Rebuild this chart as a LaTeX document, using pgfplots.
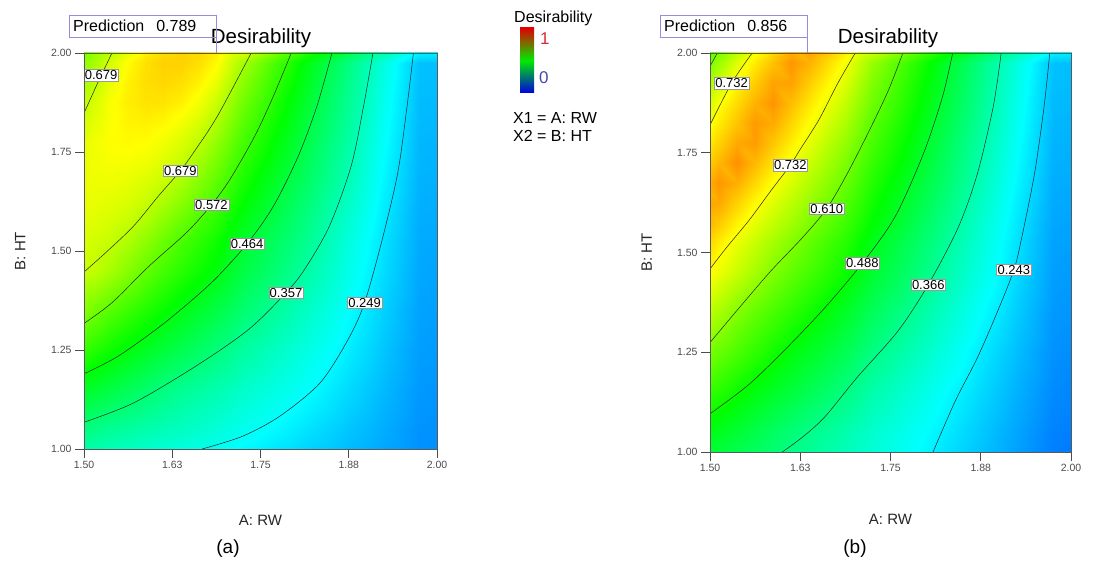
\documentclass[border=0pt]{standalone}
\usepackage{fontspec}
\setmainfont{Liberation Sans}
\usepackage{pgfplots}
\usepackage{pgfplotstable}
\pgfplotsset{compat=1.18}
\definecolor{predbox}{RGB}{150,140,220}
\definecolor{cbred}{RGB}{225,0,0}
\definecolor{cbgreen}{RGB}{0,235,0}
\definecolor{cbblue}{RGB}{0,0,225}
\definecolor{onecol}{RGB}{215,40,60}
\definecolor{zerocol}{RGB}{70,70,170}
\pgfplotsset{colormap={de}{rgb255(0cm)=(0,0,255) rgb255(25cm)=(0,255,255) rgb255(50cm)=(0,255,0) rgb255(74cm)=(255,255,0) rgb255(100cm)=(255,0,0)}}

% (a) desirability: rows of B (HT), columns of A (RW)
\pgfplotstableread{
x y z
1.500 1.00 0.300
1.525 1.00 0.292
1.550 1.00 0.285
1.575 1.00 0.277
1.600 1.00 0.269
1.625 1.00 0.261
1.650 1.00 0.254
1.675 1.00 0.246
1.700 1.00 0.238
1.750 1.00 0.222
1.800 1.00 0.206
1.850 1.00 0.190
1.900 1.00 0.173
1.950 1.00 0.157
2.000 1.00 0.141
1.500 1.10 0.385
1.525 1.10 0.370
1.550 1.10 0.355
1.575 1.10 0.344
1.600 1.10 0.333
1.625 1.10 0.322
1.650 1.10 0.311
1.675 1.10 0.300
1.700 1.10 0.289
1.750 1.10 0.266
1.800 1.10 0.244
1.850 1.10 0.219
1.900 1.10 0.194
1.950 1.10 0.170
2.000 1.10 0.145
1.500 1.20 0.472
1.525 1.20 0.453
1.550 1.20 0.434
1.575 1.20 0.415
1.600 1.20 0.395
1.625 1.20 0.376
1.650 1.20 0.357
1.675 1.20 0.343
1.700 1.20 0.329
1.750 1.20 0.302
1.800 1.20 0.275
1.850 1.20 0.247
1.900 1.20 0.214
1.950 1.20 0.182
2.000 1.20 0.150
1.500 1.30 0.558
1.525 1.30 0.535
1.550 1.30 0.511
1.575 1.30 0.488
1.600 1.30 0.465
1.625 1.30 0.444
1.650 1.30 0.423
1.675 1.30 0.402
1.700 1.30 0.382
1.750 1.30 0.344
1.800 1.30 0.307
1.850 1.30 0.271
1.900 1.30 0.233
1.950 1.30 0.194
2.000 1.30 0.155
1.500 1.40 0.640
1.525 1.40 0.610
1.550 1.40 0.580
1.575 1.40 0.554
1.600 1.40 0.530
1.625 1.40 0.506
1.650 1.40 0.481
1.675 1.40 0.457
1.700 1.40 0.435
1.750 1.40 0.391
1.800 1.40 0.346
1.850 1.40 0.299
1.900 1.40 0.251
1.950 1.40 0.205
2.000 1.40 0.160
1.500 1.50 0.694
1.525 1.50 0.683
1.550 1.50 0.657
1.575 1.50 0.625
1.600 1.50 0.592
1.625 1.50 0.563
1.650 1.50 0.537
1.675 1.50 0.512
1.700 1.50 0.487
1.750 1.50 0.435
1.800 1.50 0.384
1.850 1.50 0.330
1.900 1.50 0.271
1.950 1.50 0.216
2.000 1.50 0.165
1.500 1.55 0.706
1.525 1.55 0.698
1.550 1.55 0.687
1.575 1.55 0.663
1.600 1.55 0.631
1.625 1.55 0.600
1.650 1.55 0.569
1.675 1.55 0.541
1.700 1.55 0.513
1.750 1.55 0.457
1.800 1.55 0.403
1.850 1.55 0.348
1.900 1.55 0.282
1.950 1.55 0.222
2.000 1.55 0.168
1.500 1.60 0.715
1.525 1.60 0.710
1.550 1.60 0.701
1.575 1.60 0.687
1.600 1.60 0.663
1.625 1.60 0.631
1.650 1.60 0.600
1.675 1.60 0.569
1.700 1.60 0.539
1.750 1.60 0.480
1.800 1.60 0.421
1.850 1.60 0.362
1.900 1.60 0.294
1.950 1.60 0.228
2.000 1.60 0.170
1.500 1.65 0.719
1.525 1.65 0.719
1.550 1.65 0.714
1.575 1.65 0.704
1.600 1.65 0.688
1.625 1.65 0.661
1.650 1.65 0.629
1.675 1.65 0.596
1.700 1.65 0.565
1.750 1.65 0.501
1.800 1.65 0.437
1.850 1.65 0.375
1.900 1.65 0.306
1.950 1.65 0.234
2.000 1.65 0.173
1.500 1.70 0.718
1.525 1.70 0.725
1.550 1.70 0.725
1.575 1.70 0.718
1.600 1.70 0.706
1.625 1.70 0.688
1.650 1.70 0.659
1.675 1.70 0.624
1.700 1.70 0.589
1.750 1.70 0.522
1.800 1.70 0.454
1.850 1.70 0.389
1.900 1.70 0.319
1.950 1.70 0.241
2.000 1.70 0.175
1.500 1.75 0.715
1.525 1.75 0.728
1.550 1.75 0.734
1.575 1.75 0.733
1.600 1.75 0.725
1.625 1.75 0.709
1.650 1.75 0.686
1.675 1.75 0.651
1.700 1.75 0.614
1.750 1.75 0.543
1.800 1.75 0.472
1.850 1.75 0.402
1.900 1.75 0.328
1.950 1.75 0.247
2.000 1.75 0.178
1.500 1.80 0.705
1.525 1.80 0.727
1.550 1.80 0.741
1.575 1.80 0.745
1.600 1.80 0.741
1.625 1.80 0.728
1.650 1.80 0.707
1.675 1.80 0.678
1.700 1.80 0.639
1.750 1.80 0.564
1.800 1.80 0.489
1.850 1.80 0.414
1.900 1.80 0.338
1.950 1.80 0.254
2.000 1.80 0.180
1.500 1.85 0.679
1.525 1.85 0.713
1.550 1.85 0.737
1.575 1.85 0.751
1.600 1.85 0.755
1.625 1.85 0.748
1.650 1.85 0.730
1.675 1.85 0.703
1.700 1.85 0.666
1.750 1.85 0.584
1.800 1.85 0.506
1.850 1.85 0.427
1.900 1.85 0.347
1.950 1.85 0.260
2.000 1.85 0.183
1.500 1.90 0.656
1.525 1.90 0.701
1.550 1.90 0.735
1.575 1.90 0.758
1.600 1.90 0.769
1.625 1.90 0.768
1.650 1.90 0.755
1.675 1.90 0.729
1.700 1.90 0.692
1.750 1.90 0.606
1.800 1.90 0.523
1.850 1.90 0.439
1.900 1.90 0.356
1.950 1.90 0.267
2.000 1.90 0.185
1.500 1.95 0.632
1.525 1.95 0.677
1.550 1.95 0.722
1.575 1.95 0.754
1.600 1.95 0.774
1.625 1.95 0.780
1.650 1.95 0.773
1.675 1.95 0.752
1.700 1.95 0.719
1.750 1.95 0.629
1.800 1.95 0.540
1.850 1.95 0.452
1.900 1.95 0.364
1.950 1.95 0.273
2.000 1.95 0.188
1.500 2.00 0.620
1.525 2.00 0.653
1.550 2.00 0.700
1.575 2.00 0.744
1.600 2.00 0.772
1.625 2.00 0.787
1.650 2.00 0.787
1.675 2.00 0.773
1.700 2.00 0.745
1.750 2.00 0.654
1.800 2.00 0.560
1.850 2.00 0.467
1.900 2.00 0.374
1.950 2.00 0.280
2.000 2.00 0.190
}\gridA

% (b)
\pgfplotstableread{
x y z
1.500 1.00 0.423
1.525 1.00 0.409
1.550 1.00 0.395
1.575 1.00 0.381
1.600 1.00 0.366
1.625 1.00 0.352
1.650 1.00 0.337
1.675 1.00 0.322
1.700 1.00 0.307
1.750 1.00 0.278
1.800 1.00 0.248
1.850 1.00 0.217
1.900 1.00 0.185
1.950 1.00 0.153
2.000 1.00 0.121
1.500 1.10 0.491
1.525 1.10 0.470
1.550 1.10 0.449
1.575 1.10 0.428
1.600 1.10 0.407
1.625 1.10 0.386
1.650 1.10 0.366
1.675 1.10 0.349
1.700 1.10 0.332
1.750 1.10 0.299
1.800 1.10 0.265
1.850 1.10 0.231
1.900 1.10 0.197
1.950 1.10 0.162
2.000 1.10 0.128
1.500 1.20 0.559
1.525 1.20 0.534
1.550 1.20 0.509
1.575 1.20 0.485
1.600 1.20 0.463
1.625 1.20 0.441
1.650 1.20 0.419
1.675 1.20 0.397
1.700 1.20 0.375
1.750 1.20 0.333
1.800 1.20 0.292
1.850 1.20 0.251
1.900 1.20 0.213
1.950 1.20 0.174
2.000 1.20 0.136
1.500 1.30 0.627
1.525 1.30 0.596
1.550 1.30 0.570
1.575 1.30 0.543
1.600 1.30 0.516
1.625 1.30 0.491
1.650 1.30 0.467
1.675 1.30 0.443
1.700 1.30 0.420
1.750 1.30 0.374
1.800 1.30 0.326
1.850 1.30 0.278
1.900 1.30 0.230
1.950 1.30 0.187
2.000 1.30 0.143
1.500 1.40 0.693
1.525 1.40 0.658
1.550 1.40 0.622
1.575 1.40 0.593
1.600 1.40 0.567
1.625 1.40 0.541
1.650 1.40 0.516
1.675 1.40 0.490
1.700 1.40 0.464
1.750 1.40 0.413
1.800 1.40 0.361
1.850 1.40 0.307
1.900 1.40 0.252
1.950 1.40 0.201
2.000 1.40 0.150
1.500 1.50 0.762
1.525 1.50 0.722
1.550 1.50 0.689
1.575 1.50 0.655
1.600 1.50 0.621
1.625 1.50 0.592
1.650 1.50 0.565
1.675 1.50 0.538
1.700 1.50 0.511
1.750 1.50 0.455
1.800 1.50 0.396
1.850 1.50 0.336
1.900 1.50 0.275
1.950 1.50 0.215
2.000 1.50 0.156
1.500 1.55 0.799
1.525 1.55 0.757
1.550 1.55 0.719
1.575 1.55 0.687
1.600 1.55 0.654
1.625 1.55 0.622
1.650 1.55 0.592
1.675 1.55 0.563
1.700 1.55 0.535
1.750 1.55 0.477
1.800 1.55 0.415
1.850 1.55 0.353
1.900 1.55 0.287
1.950 1.55 0.222
2.000 1.55 0.160
1.500 1.60 0.836
1.525 1.60 0.794
1.550 1.60 0.752
1.575 1.60 0.715
1.600 1.60 0.683
1.625 1.60 0.651
1.650 1.60 0.619
1.675 1.60 0.589
1.700 1.60 0.559
1.750 1.60 0.499
1.800 1.60 0.434
1.850 1.60 0.367
1.900 1.60 0.297
1.950 1.60 0.228
2.000 1.60 0.163
1.500 1.65 0.840
1.525 1.65 0.828
1.550 1.65 0.786
1.575 1.65 0.744
1.600 1.65 0.709
1.625 1.65 0.676
1.650 1.65 0.643
1.675 1.65 0.610
1.700 1.65 0.578
1.750 1.65 0.515
1.800 1.65 0.449
1.850 1.65 0.381
1.900 1.65 0.308
1.950 1.65 0.235
2.000 1.65 0.167
1.500 1.70 0.804
1.525 1.70 0.847
1.550 1.70 0.821
1.575 1.70 0.779
1.600 1.70 0.737
1.625 1.70 0.702
1.650 1.70 0.667
1.675 1.70 0.632
1.700 1.70 0.598
1.750 1.70 0.532
1.800 1.70 0.465
1.850 1.70 0.395
1.900 1.70 0.320
1.950 1.70 0.243
2.000 1.70 0.170
1.500 1.75 0.772
1.525 1.75 0.815
1.550 1.75 0.853
1.575 1.75 0.811
1.600 1.75 0.769
1.625 1.75 0.728
1.650 1.75 0.691
1.675 1.75 0.654
1.700 1.75 0.617
1.750 1.75 0.550
1.800 1.75 0.482
1.850 1.75 0.407
1.900 1.75 0.329
1.950 1.75 0.249
2.000 1.75 0.174
1.500 1.80 0.744
1.525 1.80 0.786
1.550 1.80 0.828
1.575 1.80 0.840
1.600 1.80 0.798
1.625 1.80 0.756
1.650 1.80 0.716
1.675 1.80 0.677
1.700 1.80 0.639
1.750 1.80 0.566
1.800 1.80 0.495
1.850 1.80 0.418
1.900 1.80 0.339
1.950 1.80 0.256
2.000 1.80 0.177
1.500 1.85 0.712
1.525 1.85 0.759
1.550 1.85 0.801
1.575 1.85 0.843
1.600 1.85 0.825
1.625 1.85 0.783
1.650 1.85 0.740
1.675 1.85 0.701
1.700 1.85 0.662
1.750 1.85 0.584
1.800 1.85 0.510
1.850 1.85 0.431
1.900 1.85 0.349
1.950 1.85 0.263
2.000 1.85 0.180
1.500 1.90 0.670
1.525 1.90 0.736
1.550 1.90 0.777
1.575 1.90 0.819
1.600 1.90 0.849
1.625 1.90 0.807
1.650 1.90 0.765
1.675 1.90 0.724
1.700 1.90 0.684
1.750 1.90 0.603
1.800 1.90 0.524
1.850 1.90 0.443
1.900 1.90 0.357
1.950 1.90 0.269
2.000 1.90 0.183
1.500 1.95 0.628
1.525 1.95 0.694
1.550 1.95 0.750
1.575 1.95 0.792
1.600 1.95 0.834
1.625 1.95 0.834
1.650 1.95 0.792
1.675 1.95 0.750
1.700 1.95 0.707
1.750 1.95 0.621
1.800 1.95 0.537
1.850 1.95 0.452
1.900 1.95 0.365
1.950 1.95 0.275
2.000 1.95 0.187
1.500 2.00 0.584
1.525 2.00 0.648
1.550 2.00 0.711
1.575 2.00 0.761
1.600 2.00 0.804
1.625 2.00 0.847
1.650 2.00 0.820
1.675 2.00 0.777
1.700 2.00 0.734
1.750 2.00 0.642
1.800 2.00 0.552
1.850 2.00 0.463
1.900 2.00 0.372
1.950 2.00 0.281
2.000 2.00 0.190
}\gridB

\pgfplotsset{
  deaxis/.style={
    scale only axis, anchor=south west,
    xmin=1.5, xmax=2, ymin=1, ymax=2,
    xtick={1.5,1.625,1.75,1.875,2}, xticklabels={1.50,1.63,1.75,1.88,2.00},
    ytick={1,1.25,1.5,1.75,2}, yticklabels={1.00,1.25,1.50,1.75,2.00},
    tick align=outside, tick pos=left, major tick length=9pt,
    every tick/.style={gray!60!black, line width=0.6pt},
    tick label style={font=\fontsize{10.5}{11}\selectfont, text=black!70},
    axis line style={gray!70!black, line width=0.6pt},
    label style={font=\fontsize{15}{17}\selectfont, text=black!85},
    colormap name=de, point meta min=0, point meta max=1,
    enlargelimits=false, axis on top,
  },
  cont/.style={black!85, line width=0.5pt, smooth, no markers},
}
\tikzset{clab/.style={draw=gray!80, fill=white, inner sep=1pt, line width=0.4pt, font=\fontsize{13}{13}\selectfont}}

\begin{document}
\begin{tikzpicture}
\useasboundingbox (0pt,0pt) rectangle (1111pt,565pt);

% ---------- (a) ----------
\begin{axis}[deaxis, at={(84pt,116pt)}, width=353pt, height=396pt,
  xlabel={A: RW}, ylabel={B: HT},
  xlabel style={at={(axis description cs:0.5,-0.179)}, anchor=center},
  ylabel style={at={(axis description cs:-0.181,0.5)}, anchor=center}]
\addplot[matrix plot*, shader=interp, mesh/cols=15, point meta=explicit] table[x=x, y=y, meta=z] {\gridA};
\addplot[cont] coordinates {(1.5396,2.0) (1.5198,1.926) (1.5,1.848)};
\addplot[cont] coordinates {(1.7368,2.0) (1.6893,1.8415) (1.6585,1.7572) (1.6364,1.7024) (1.6056,1.6392) (1.5704,1.5633) (1.5308,1.4959) (1.5,1.447)};
\addplot[cont] coordinates {(1.7936,2.0) (1.7685,1.8921) (1.7421,1.7909) (1.7069,1.6813) (1.6805,1.6164) (1.6452,1.5465) (1.5924,1.4622) (1.5396,1.3694) (1.5,1.3172)};
\addplot[cont] coordinates {(1.8512,2.0) (1.8301,1.8668) (1.8037,1.7404) (1.7685,1.6139) (1.7311,1.5186) (1.6805,1.42) (1.6144,1.3189) (1.5484,1.2345) (1.5,1.1899)};
\addplot[cont] coordinates {(1.9093,2.0) (1.8961,1.8668) (1.8785,1.7151) (1.8477,1.5633) (1.8125,1.4537) (1.7861,1.3947) (1.7333,1.302) (1.6585,1.2093) (1.5704,1.1165) (1.5,1.0676)};
\addplot[cont] coordinates {(1.9666,2.0) (1.9577,1.8668) (1.9445,1.6982) (1.9225,1.5296) (1.8974,1.3694) (1.8741,1.2767) (1.8345,1.1672) (1.7773,1.0828) (1.7245,1.0322) (1.6673,1.0)};
\node[clab, anchor=west] at (axis cs:1.4995,1.944) {0.679};
\node[clab] at (axis cs:1.6364,1.7024) {0.679};
\node[clab] at (axis cs:1.6805,1.6164) {0.572};
\node[clab] at (axis cs:1.7311,1.5186) {0.464};
\node[clab] at (axis cs:1.7861,1.3947) {0.357};
\node[clab] at (axis cs:1.8974,1.3694) {0.249};
\end{axis}

% ---------- (b) ----------
\begin{axis}[deaxis, at={(710pt,113pt)}, width=361pt, height=399pt,
  xlabel={A: RW}, ylabel={B: HT},
  xlabel style={at={(axis description cs:0.5,-0.170)}, anchor=center},
  ylabel style={at={(axis description cs:-0.175,0.5)}, anchor=center}]
\addplot[matrix plot*, shader=interp, mesh/cols=15, point meta=explicit] table[x=x, y=y, meta=z] {\gridB};
\addplot[cont] coordinates {(1.5101,2.0) (1.5,1.9664)};
\addplot[cont] coordinates {(1.5584,2.0) (1.5299,1.9245) (1.5,1.8196)};
\addplot[cont] coordinates {(1.7012,2.0) (1.6771,1.9245) (1.6507,1.8322) (1.6243,1.7567) (1.6112,1.7189) (1.5848,1.656) (1.554,1.5805) (1.5233,1.5134) (1.5,1.4588)};
\addplot[cont] coordinates {(1.7671,2.0) (1.7474,1.9077) (1.721,1.807) (1.6902,1.698) (1.6617,1.6099) (1.6287,1.5386) (1.5848,1.4547) (1.5409,1.3624) (1.5,1.2743)};
\addplot[cont] coordinates {(1.8361,2.0) (1.8221,1.8909) (1.7957,1.7483) (1.7561,1.5889) (1.7109,1.4731) (1.6595,1.3624) (1.6068,1.2617) (1.554,1.1694) (1.5,1.0956)};
\addplot[cont] coordinates {(1.9033,2.0) (1.8923,1.8658) (1.8704,1.698) (1.844,1.5637) (1.8023,1.4194) (1.7605,1.3036) (1.7034,1.1862) (1.66,1.09) (1.63,1.04) (1.6002,1.0)};
\addplot[cont] coordinates {(1.9706,2.0) (1.9627,1.8658) (1.9495,1.698) (1.9319,1.5386) (1.9209,1.4563) (1.8967,1.3456) (1.8704,1.2365) (1.8396,1.1274) (1.8089,1.0)};
\node[clab] at (axis cs:1.5299,1.9245) {0.732};
\node[clab] at (axis cs:1.6112,1.7189) {0.732};
\node[clab] at (axis cs:1.6617,1.6099) {0.610};
\node[clab] at (axis cs:1.7109,1.4731) {0.488};
\node[clab] at (axis cs:1.8023,1.4194) {0.366};
\node[clab] at (axis cs:1.9209,1.4563) {0.243};
\end{axis}

% titles
\node[font=\fontsize{20.5}{23}\selectfont] at (261pt,527pt) {Desirability};
\node[font=\fontsize{20.5}{23}\selectfont] at (888pt,527pt) {Desirability};

% prediction boxes
\draw[predbox, line width=0.7pt] (69pt,528pt) rectangle (216pt,550pt);
\draw[predbox, line width=0.7pt] (216pt,528pt) -- (216pt,512pt);
\node[anchor=west, inner sep=0pt, font=\fontsize{16}{17}\selectfont] at (73pt,539pt) {Prediction\hspace{12pt}0.789};
\draw[predbox, line width=0.7pt] (660pt,528pt) rectangle (807pt,550pt);
\draw[predbox, line width=0.7pt] (807pt,528pt) -- (807pt,512pt);
\node[anchor=west, inner sep=0pt, font=\fontsize{16}{17}\selectfont] at (664pt,539pt) {Prediction\hspace{12pt}0.856};

% colour legend
\node[anchor=west, inner sep=0pt, font=\fontsize{16}{17}\selectfont] at (514pt,547pt) {Desirability};
\shade[top color=cbred, bottom color=cbblue, middle color=cbgreen] (520pt,472pt) rectangle (534pt,537pt);
\node[anchor=west, inner sep=0pt, text=onecol, font=\fontsize{17}{18}\selectfont] at (540pt,526pt) {1};
\node[anchor=west, inner sep=0pt, text=zerocol, font=\fontsize{17}{18}\selectfont] at (539pt,487pt) {0};
\node[anchor=west, inner sep=0pt, font=\fontsize{16}{17}\selectfont] at (513pt,447pt) {X1 = A: RW};
\node[anchor=west, inner sep=0pt, font=\fontsize{16}{17}\selectfont] at (513pt,429pt) {X2 = B: HT};

% panel letters
\node[font=\fontsize{19}{21}\selectfont] at (228pt,16pt) {(a)};
\node[font=\fontsize{19}{21}\selectfont] at (855pt,16pt) {(b)};
\end{tikzpicture}
\end{document}
